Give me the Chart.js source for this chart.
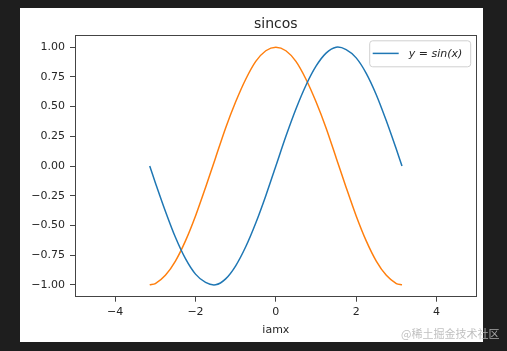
<!DOCTYPE html>
<html>
<head>
<meta charset="utf-8">
<script src="https://cdn.jsdelivr.net/npm/chart.js@4.4.0/dist/chart.umd.min.js"></script>
<style>
  html, body { margin: 0; padding: 0; background: #1e1e1e; width: 507px; height: 351px; overflow: hidden; }
  #fig { position: absolute; left: 20px; top: 8px; width: 463px; height: 334px; background: #fff; }
  #mark { position: absolute; left: 401px; top: 325px; font: 11px "Noto Sans CJK SC", sans-serif; color: rgba(185, 185, 185, 0.9); white-space: nowrap; }
</style>
</head>
<body>
<div id="fig"><canvas id="c" width="463" height="334"></canvas></div>
<span id="mark">@稀土掘金技术社区</span>
<script>
const xValues = [-3.14, -3, -2.75, -2.5, -2.25, -2, -1.75, -1.5, -1.25, -1, -0.75, -0.5, -0.25, 0,
  0.25, 0.5, 0.75, 1, 1.25, 1.5, 1.75, 2, 2.25, 2.5, 2.75, 3, 3.14];
const sinValues = [0.0, -0.14, -0.38, -0.6, -0.78, -0.91, -0.98, -1.0, -0.95, -0.84, -0.68, -0.48, -0.25, 0.0,
  0.25, 0.48, 0.68, 0.84, 0.95, 1.0, 0.98, 0.91, 0.78, 0.6, 0.38, 0.14, 0.0];
const cosValues = [-1.0, -0.99, -0.92, -0.8, -0.63, -0.42, -0.18, 0.07, 0.32, 0.54, 0.73, 0.88, 0.97, 1.0,
  0.97, 0.88, 0.73, 0.54, 0.32, 0.07, -0.18, -0.42, -0.63, -0.8, -0.92, -0.99, -1.0];
const xTicks = [-4, -2, 0, 2, 4];
const yTicks = [-1, -0.75, -0.5, -0.25, 0, 0.25, 0.5, 0.75, 1];
const legendLabel = "y = sin(x)";

const FONT = "'DejaVu Sans', sans-serif";
const BLUE = "#1f77b4";
const ORANGE = "#ff7f0e";
const AXIS = "#444";
const TEXT = "#262626";

const minus = (s) => s.replace("-", "\u2212");

const toPoints = (ys) => xValues.map((x, i) => ({ x: x, y: ys[i] }));

// frame around the plot + the boxed legend in the top right corner
const framePlugin = {
  id: "frame",
  afterDatasetsDraw(chart) {
    const { ctx, chartArea: a } = chart;
    ctx.save();
    ctx.strokeStyle = AXIS;
    ctx.lineWidth = 1;
    ctx.strokeRect(Math.round(a.left) + 0.5, Math.round(a.top) + 0.5,
      Math.round(a.right - a.left) - 1, Math.round(a.bottom - a.top));

    const bw = 101, bh = 26;
    const bx = a.right - 6 - bw, by = a.top + 5.5;
    ctx.beginPath();
    ctx.roundRect(bx, by, bw, bh, 3);
    ctx.fillStyle = "rgba(255,255,255,0.8)";
    ctx.fill();
    ctx.strokeStyle = "#d0d0d0";
    ctx.stroke();

    ctx.beginPath();
    ctx.moveTo(bx + 3, by + 12.6);
    ctx.lineTo(bx + 29, by + 12.6);
    ctx.strokeStyle = BLUE;
    ctx.lineWidth = 1.5;
    ctx.stroke();

    ctx.fillStyle = TEXT;
    ctx.font = "italic 11px " + FONT;
    ctx.textBaseline = "middle";
    ctx.fillText(legendLabel, bx + 39, by + 13);
    ctx.restore();
  },
};

new Chart(document.getElementById("c"), {
  type: "line",
  data: {
    datasets: [
      {
        label: legendLabel,
        data: toPoints(sinValues),
        borderColor: BLUE,
        borderWidth: 1.5,
        pointRadius: 0,
        tension: 0.3,
      },
      {
        label: "cos",
        data: toPoints(cosValues),
        borderColor: ORANGE,
        borderWidth: 1.5,
        pointRadius: 0,
        tension: 0.3,
      },
    ],
  },
  options: {
    responsive: false,
    animation: false,
    layout: { padding: { left: 0, right: 6.3, top: 0, bottom: 0 } },
    plugins: {
      legend: { display: false },
      tooltip: { enabled: false },
      title: {
        display: true,
        text: "sincos",
        fullSize: false,
        color: TEXT,
        font: { family: FONT, size: 14, weight: "normal", lineHeight: 1 },
        padding: { top: 9.5, bottom: 3.8 },
      },
    },
    scales: {
      x: {
        type: "linear",
        min: -5,
        max: 5,
        afterBuildTicks: (scale) => { scale.ticks = xTicks.map((v) => ({ value: v })); },
        afterFit: (scale) => { scale.height = 45.3; },
        grid: { drawOnChartArea: false, color: AXIS, tickLength: 5 },
        border: { color: AXIS },
        ticks: {
          color: TEXT,
          padding: 4,
          maxRotation: 0,
          font: { family: FONT, size: 11 },
          callback: (v) => minus(String(v)),
        },
        title: {
          display: true,
          text: "iamx",
          color: TEXT,
          font: { family: FONT, size: 11 },
          padding: { top: 3, bottom: 5 },
        },
      },
      y: {
        min: -1.1,
        max: 1.1,
        afterBuildTicks: (scale) => { scale.ticks = yTicks.map((v) => ({ value: v })); },
        afterFit: (scale) => { scale.width = 55; },
        grid: { drawOnChartArea: false, color: AXIS, tickLength: 5 },
        border: { color: AXIS },
        ticks: {
          color: TEXT,
          padding: 5,
          font: { family: FONT, size: 11 },
          callback: (v) => minus(Number(v).toFixed(2)),
        },
      },
    },
  },
  plugins: [framePlugin],
});
</script>
</body>
</html>
